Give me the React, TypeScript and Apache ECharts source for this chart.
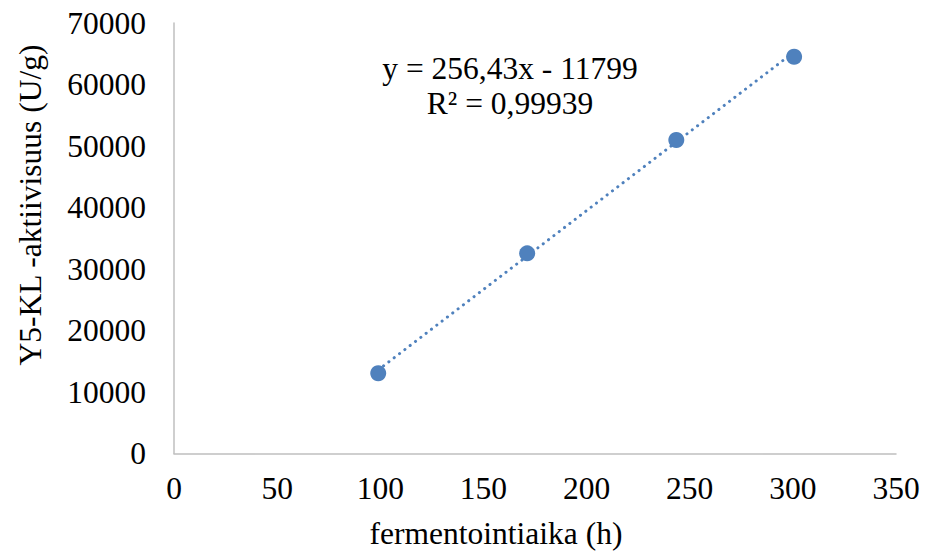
import React, { useEffect, useRef } from "react";
import * as echarts from "echarts";

const xValues = [99, 171.2, 243.5, 300.6];
const yValues = [13050, 32550, 50980, 64520];
const slope = 256.43;
const intercept = -11799;
const trendX = [99, 300.6];
const xTicks = { min: 0, max: 350, interval: 50 };
const yTicks = { min: 0, max: 70000, interval: 10000 };
const equationText = "y = 256,43x - 11799";
const r2Text = "R² = 0,99939";
const xTitle = "fermentointiaika (h)";
const yTitle = "Y5-KL -aktiivisuus (U/g)";

const FONT = "'Liberation Serif', 'Times New Roman', serif";
const FS = 31.5;

export default function App() {
  const ref = useRef<HTMLDivElement>(null);
  useEffect(() => {
    if (!ref.current) return;
    const chart = echarts.init(ref.current, undefined, { renderer: "svg" });
    const points = xValues.map((x, i) => [x, yValues[i]]);
    const trend = trendX.map((x) => [x, slope * x + intercept]);
    chart.setOption({
      animation: false,
      backgroundColor: "#ffffff",
      grid: {
        left: 174,
        top: 23,
        right: 29,
        bottom: 97.5,
        containLabel: false,
        outerBoundsMode: "none",
      },
      xAxis: {
        type: "value",
        min: xTicks.min,
        max: xTicks.max,
        interval: xTicks.interval,
        axisLine: { show: true, lineStyle: { color: "#bfbfbf", width: 1.5 } },
        axisTick: { show: false },
        splitLine: { show: false },
        axisLabel: {
          fontFamily: FONT,
          fontSize: FS,
          color: "#000",
          margin: 19,
          formatter: (v: number) => String(v),
        },
      },
      yAxis: {
        type: "value",
        min: yTicks.min,
        max: yTicks.max,
        interval: yTicks.interval,
        axisLine: { show: true, lineStyle: { color: "#bfbfbf", width: 1.5 } },
        axisTick: { show: false },
        splitLine: { show: false },
        axisLabel: {
          fontFamily: FONT,
          fontSize: FS,
          color: "#000",
          margin: 28,
          formatter: (v: number) => String(v),
        },
      },
      series: [
        {
          type: "line",
          data: trend,
          symbol: "none",
          lineStyle: { color: "#4f81bd", width: 3, type: [0.1, 6.6], cap: "round" },
          silent: true,
          z: 1,
        },
        {
          type: "scatter",
          data: points,
          symbol: "circle",
          symbolSize: 16,
          itemStyle: { color: "#4f81bd", opacity: 1 },
          z: 2,
        },
      ],
      graphic: [
        {
          type: "text",
          x: 510,
          y: 86,
          style: {
            text: equationText + "\n" + r2Text,
            fontFamily: FONT,
            fontSize: FS,
            lineHeight: 35,
            fill: "#000",
            align: "center",
            verticalAlign: "middle",
          },
        },
        {
          type: "text",
          x: 496,
          y: 533,
          style: {
            text: xTitle,
            fontFamily: FONT,
            fontSize: FS,
            fill: "#000",
            align: "center",
            verticalAlign: "middle",
          },
        },
        {
          type: "text",
          x: 30,
          y: 205,
          rotation: Math.PI / 2,
          style: {
            text: yTitle,
            fontFamily: FONT,
            fontSize: FS,
            fill: "#000",
            align: "center",
            verticalAlign: "middle",
          },
        },
      ],
    });
    return () => chart.dispose();
  }, []);
  return (
    <div
      ref={ref}
      style={{ position: "absolute", left: 0, top: 0, width: 925, height: 551 }}
    />
  );
}
